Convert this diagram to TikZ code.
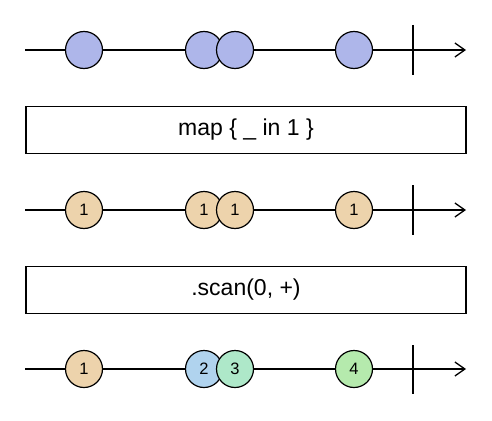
\documentclass[tikz,border=0pt]{standalone}
\usepackage{fontspec}
\setmainfont{Liberation Sans}
\usetikzlibrary{arrows.meta}

\definecolor{marbleblue}{HTML}{AEB6EA}
\definecolor{marbletan}{HTML}{EDD3AC}
\definecolor{marblesky}{HTML}{B0D3EE}
\definecolor{marblemint}{HTML}{AEE8C9}
\definecolor{marblegreen}{HTML}{B5EAAD}

\tikzset{
  timeline/.style={line width=1.3pt, -{Straight Barb[length=10pt,width=14pt,line width=1.3pt]}},
  endtick/.style={line width=1.3pt},
  marble/.style={circle, draw=black, line width=1.2pt, minimum size=37pt, inner sep=0pt, font=\fontsize{16.5}{16.5}\selectfont},
  opbox/.style={draw=black, line width=1.3pt, minimum width=440pt, minimum height=47pt, inner sep=0pt, font=\fontsize{23}{23}\selectfont},
}

\begin{document}
\begin{tikzpicture}[x=1pt,y=-1pt]
\useasboundingbox (0,0) rectangle (492,420);

% source stream
\coordinate (s1) at (25,50);
\coordinate (e1) at (466,50);
\draw[timeline] (s1) -- (e1);
\coordinate (t1a) at (413,25);
\coordinate (t1b) at (413,75);
\draw[endtick] (t1a) -- (t1b);
\node[marble, fill=marbleblue] (a1) at (84,50) {};
\node[marble, fill=marbleblue] (a2) at (204,50) {};
\node[marble, fill=marbleblue] (a3) at (235,50) {};
\node[marble, fill=marbleblue] (a4) at (354,50) {};

% operator one
\node[opbox] (map) at (246,130) {map \{ \_ in 1 \}};

% mapped stream
\coordinate (s2) at (25,210);
\coordinate (e2) at (466,210);
\draw[timeline] (s2) -- (e2);
\coordinate (t2a) at (413,185);
\coordinate (t2b) at (413,235);
\draw[endtick] (t2a) -- (t2b);
\node[marble, fill=marbletan] (b1) at (84,210) {1};
\node[marble, fill=marbletan] (b2) at (204,210) {1};
\node[marble, fill=marbletan] (b3) at (235,210) {1};
\node[marble, fill=marbletan] (b4) at (354,210) {1};

% operator two
\node[opbox] (scan) at (246,290) {.scan(0, +)};

% scanned stream
\coordinate (s3) at (25,369);
\coordinate (e3) at (466,369);
\draw[timeline] (s3) -- (e3);
\coordinate (t3a) at (413,345);
\coordinate (t3b) at (413,394);
\draw[endtick] (t3a) -- (t3b);
\node[marble, fill=marbletan] (c1) at (84,369) {1};
\node[marble, fill=marblesky] (c2) at (204,369) {2};
\node[marble, fill=marblemint] (c3) at (235,369) {3};
\node[marble, fill=marblegreen] (c4) at (354,369) {4};
\end{tikzpicture}
\end{document}
